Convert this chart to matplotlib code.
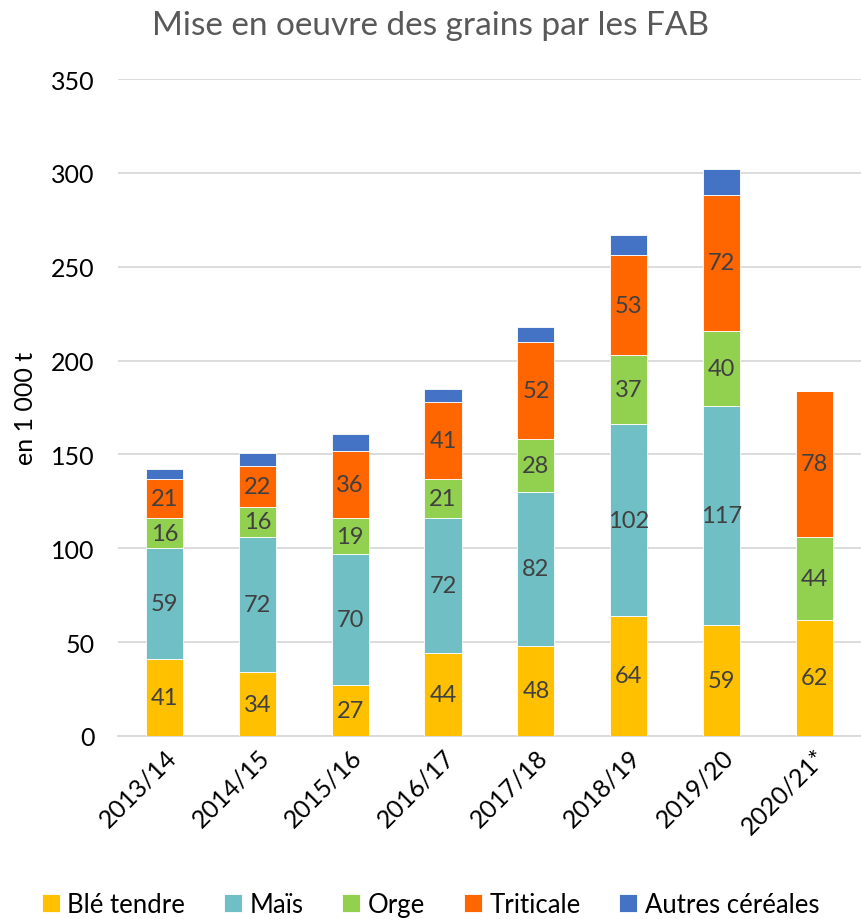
import matplotlib
matplotlib.use("Agg")
import matplotlib.pyplot as plt
import numpy as np

plt.rcParams['font.family'] = ['Lato', 'DejaVu Sans']

campagnes = ["2013/14", "2014/15", "2015/16", "2016/17", "2017/18", "2018/19", "2019/20", "2020/21*"]
ble_tendre = [41, 34, 27, 44, 48, 64, 59, 62]
mais = [59, 72, 70, 72, 82, 102, 117, 0]
orge = [16, 16, 19, 21, 28, 37, 40, 44]
triticale = [21, 22, 36, 41, 52, 53, 72, 78]
autres = [5, 7, 9, 7, 8, 11, 14, 0]

series = [
    ("Blé tendre", ble_tendre, "#FFC000", True),
    ("Maïs", mais, "#70BFC4", True),
    ("Orge", orge, "#92D050", True),
    ("Triticale", triticale, "#FF6600", True),
    ("Autres céréales", autres, "#4472C4", False),
]

fig = plt.figure(figsize=(8.61, 9.2), dpi=100)
ax = fig.add_axes([0.137, 0.199, 0.863, 0.714])

x = np.arange(len(campagnes))
bottom = np.zeros(len(campagnes))
for name, vals, color, show in series:
    vals = np.array(vals, dtype=float)
    ax.bar(x, vals, 0.4, bottom=bottom, color=color, edgecolor="white",
           linewidth=0.6, label=name, zorder=3)
    if show:
        for xi, b, v in zip(x, bottom, vals):
            if v > 0:
                ax.text(xi, b + v / 2, f"{int(v)}", ha="center", va="center",
                        fontsize=17, color="#404040", zorder=4)
    bottom += vals

ax.set_xlim(-0.5, len(campagnes) - 0.5)
ax.set_ylim(0, 350)
ax.set_yticks(np.arange(0, 351, 50))
ax.yaxis.grid(True, color="#D9D9D9", linewidth=1.3, zorder=0)
ax.set_axisbelow(True)
for s in ["top", "right", "left"]:
    ax.spines[s].set_visible(False)
ax.spines["bottom"].set_color("#D9D9D9")
ax.spines["bottom"].set_linewidth(1.3)
ax.tick_params(axis="y", length=0, labelsize=18, pad=17, colors="black")
ax.tick_params(axis="x", length=0, labelsize=18, pad=6)
ax.set_xticks(x)
ax.set_xticklabels(campagnes, rotation=45, ha="right", rotation_mode="anchor")
ax.set_ylabel("en 1 000 t", fontsize=18, labelpad=10)

fig.text(0.5, 0.972, "Mise en oeuvre des grains par les FAB", ha="center", va="center",
         fontsize=24, color="#595959")

handles, labels = ax.get_legend_handles_labels()
fig.legend(handles, labels, loc="center", bbox_to_anchor=(0.5, 0.016), ncol=5,
           frameon=False, fontsize=18.5, handlelength=0.7, handleheight=0.7,
           handletextpad=0.3, columnspacing=1.5)

fig.savefig("out.png", dpi=100)
